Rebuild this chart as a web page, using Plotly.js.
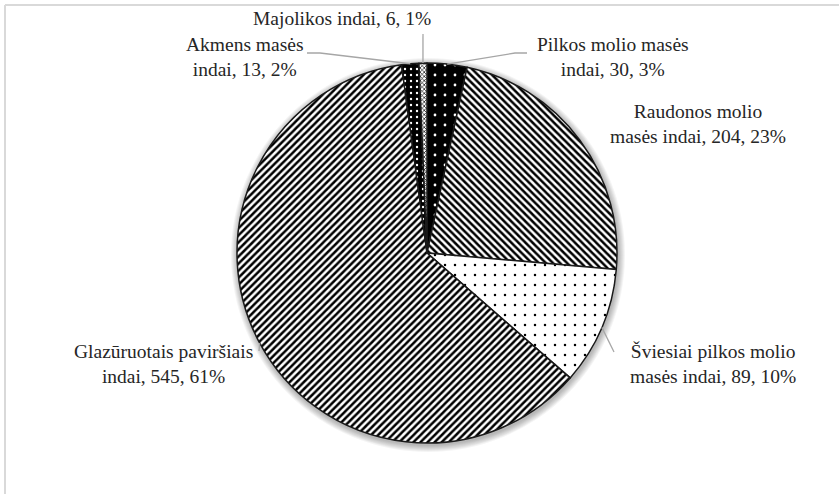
<!DOCTYPE html>
<html>
<head>
<meta charset="utf-8">
<script src="https://cdn.plot.ly/plotly-3.0.1.min.js"></script>
<style>html,body{margin:0;padding:0;background:#fff;}#chart{width:839px;height:494px;}</style>
</head>
<body>
<div id="chart"></div>
<script>
// ---- data ----
var categories = ["Pilkos molio masės indai", "Raudonos molio masės indai", "Šviesiai pilkos molio masės indai", "Glazūruotais paviršiais indai", "Akmens masės indai", "Majolikos indai"];
var labelLines = ["Pilkos molio masės<br>indai", "Raudonos molio<br>masės indai", "Šviesiai pilkos molio<br>masės indai", "Glazūruotais paviršiais<br>indai", "Akmens masės<br>indai", "Majolikos indai"];
var counts = [30, 204, 89, 545, 13, 6];
var percentLabels = ["3%", "23%", "10%", "61%", "2%", "1%"];

// ---- layout geometry (pixels) ----
var W = 839, H = 494;
var cx = 427, cy = 253, R = 190;
function px(x){ return x / W; }
function py(y){ return 1 - y / H; }

var FONT = 'Liberation Serif, Times New Roman, serif';

// label positions (text block centres) and leader line anchor points near the text
var labelPos = [[613, 57], [698, 124], [713, 364], [163, 364], [245, 57], [342, 18]];
var leaderStart = [[[527, 53], [515, 53]], null, [[614, 352]], [[259, 351]], [[307, 53], [320, 53]], [[423, 34]]];

var total = counts.reduce(function(a, b){ return a + b; }, 0);
var cum = 0, mids = [];
counts.forEach(function(v){ mids.push((cum + v / 2) / total * 360); cum += v; });

var shapes = [];
// chart-area border
shapes.push({type: 'line', xref: 'paper', yref: 'paper', x0: px(5), x1: px(5), y0: -0.05, y1: py(5), line: {color: '#d9d9d9', width: 2}});
shapes.push({type: 'line', xref: 'paper', yref: 'paper', x0: px(5), x1: 1.05, y0: py(5), y1: py(5), line: {color: '#d9d9d9', width: 2}});
// soft shadow
for (var k = 7; k >= 1; k--) {
  shapes.push({type: 'circle', xref: 'paper', yref: 'paper', layer: 'below',
    x0: px(cx - R - k + 1), x1: px(cx + R + k + 1), y0: py(cy + R + k + 2), y1: py(cy - R - k + 2),
    fillcolor: 'rgba(0,0,0,0.045)', line: {width: 0}});
}
// leader lines
var annotations = [];
categories.forEach(function(c, i){
  var a = mids[i] * Math.PI / 180;
  var ex = cx + R * Math.sin(a), ey = cy - R * Math.cos(a);
  if (leaderStart[i]) {
    var pts = leaderStart[i].concat([[ex, ey]]);
    var d = pts.map(function(p, j){ return (j ? 'L' : 'M') + px(p[0]) + ',' + py(p[1]); }).join(' ');
    shapes.push({type: 'path', xref: 'paper', yref: 'paper', path: d, line: {color: '#a6a6a6', width: 1.3}});
  }
  annotations.push({xref: 'paper', yref: 'paper', x: px(labelPos[i][0]), y: py(labelPos[i][1]),
    xanchor: 'center', yanchor: 'middle', align: 'center', showarrow: false,
    text: labelLines[i] + ', ' + counts[i] + ', ' + percentLabels[i],
    font: {family: FONT, size: 19.5, color: '#262626'}});
});

var trace = {
  type: 'pie',
  labels: categories,
  values: counts,
  sort: false,
  direction: 'clockwise',
  rotation: 0,
  textinfo: 'none',
  hoverinfo: 'label+value+percent',
  domain: {x: [px(cx - R), px(cx + R)], y: [py(cy + R), py(cy - R)]},
  marker: {
    colors: ['#000000', '#ffffff', '#ffffff', '#ffffff', '#000000', '#ffffff'],
    line: {color: '#1a1a1a', width: 1.5},
    pattern: {
      shape: ['.', '\\', '.', '/', '.', 'x'],
      fgcolor: ['#ffffff', '#000000', '#000000', '#000000', '#ffffff', '#000000'],
      bgcolor: ['#000000', '#ffffff', '#ffffff', '#ffffff', '#000000', '#ffffff'],
      size: [10, 5, 10, 5, 6, 3],
      solidity: [0.06, 0.5, 0.05, 0.5, 0.12, 0.4],
      fillmode: 'replace'
    }
  },
  automargin: false
};

var layout = {
  width: W, height: H,
  margin: {l: 0, r: 0, t: 0, b: 0},
  paper_bgcolor: '#ffffff',
  font: {family: FONT, size: 19.5, color: '#262626'},
  showlegend: false,
  shapes: shapes,
  annotations: annotations
};
Plotly.newPlot('chart', [trace], layout, {displayModeBar: false, staticPlot: true});
</script>
</body>
</html>
